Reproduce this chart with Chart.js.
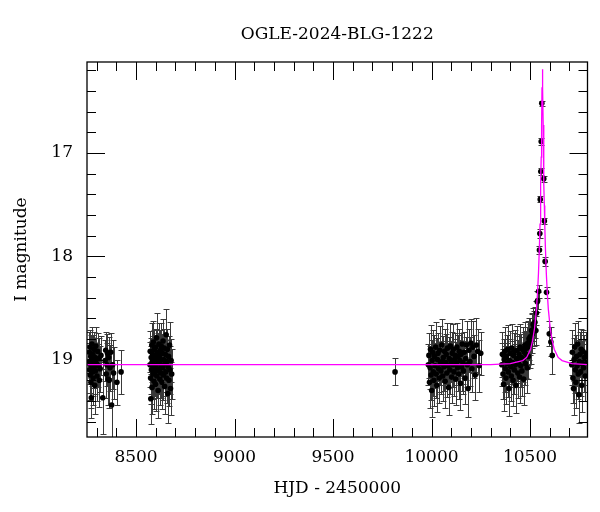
<!DOCTYPE html>
<html>
<head>
<meta charset="utf-8">
<script src="https://cdn.jsdelivr.net/npm/chart.js@4"></script>
<style>
  html, body { margin: 0; padding: 0; background: #fff; }
  canvas { display: block; }
</style>
</head>
<body>
<canvas id="lc" width="600" height="512"></canvas>
<script>
// [HJD-2450000, I mag, error]
const season2018 = [
  [8262,19.02,0.18],[8263,18.93,0.20],[8264,19.10,0.22],[8266,18.88,0.17],[8267,19.15,0.24],
  [8268,19.05,0.19],[8270,18.97,0.21],[8271,19.22,0.25],[8273,19.37,0.20],[8274,19.08,0.18],
  [8276,18.85,0.16],[8277,19.00,0.22],[8279,19.12,0.23],[8281,18.95,0.19],[8282,19.18,0.26],
  [8284,19.03,0.20],[8286,18.90,0.17],[8288,19.07,0.21],[8290,19.25,0.28],[8292,18.98,0.19],
  [8294,19.11,0.22],[8296,18.87,0.18],[8299,19.04,0.20],[8302,19.16,0.24],[8305,18.92,0.18],
  [8308,19.06,0.21],[8311,18.99,0.20],[8314,19.20,0.26],[8318,19.09,0.22],[8322,18.96,0.19],
  [8331,19.37,0.35],[8343,19.01,0.20],[8346,18.91,0.18],[8349,19.14,0.23],[8352,19.05,0.21],
  [8355,18.94,0.19],[8358,19.19,0.25],[8361,18.98,0.20],[8364,19.20,0.27],[8368,19.08,0.22],
  [8372,18.93,0.19],[8376,19.44,0.40],[8381,19.05,0.24],[8386,19.13,0.25],[8403,19.22,0.22],
  [8424,19.12,0.21]
];
const season2019 = [
  [8571,19.05,0.22],[8572,18.92,0.20],[8574,19.18,0.25],[8575,19.38,0.24],[8577,18.98,0.19],
  [8578,19.10,0.23],[8580,18.86,0.21],[8581,19.27,0.26],[8583,19.02,0.20],[8584,18.95,0.18],
  [8586,19.14,0.24],[8588,18.83,0.20],[8589,19.07,0.22],[8591,19.21,0.27],[8592,18.90,0.19],
  [8594,19.00,0.21],[8596,19.12,0.23],[8597,18.96,0.20],[8599,19.24,0.26],[8600,18.88,0.18],
  [8602,19.05,0.22],[8604,18.79,0.24],[8605,19.16,0.21],[8607,18.99,0.20],[8609,19.09,0.23],
  [8610,18.93,0.19],[8612,19.30,0.27],[8614,19.03,0.21],[8616,18.85,0.20],[8617,19.11,0.22],
  [8619,18.97,0.19],[8621,19.19,0.25],[8623,19.01,0.21],[8624,18.91,0.20],[8626,19.13,0.24],
  [8628,18.87,0.22],[8630,19.06,0.20],[8632,19.22,0.26],[8634,18.94,0.19],[8636,19.08,0.23],
  [8637,18.82,0.21],[8639,19.15,0.24],[8641,19.00,0.20],[8643,18.89,0.19],[8645,19.26,0.27],
  [8647,19.04,0.22],[8649,18.95,0.20],[8651,19.12,0.23],[8653,18.76,0.25],[8655,19.18,0.24],
  [8657,19.02,0.21],[8659,18.90,0.20],[8661,19.33,0.28],[8663,19.07,0.22],[8665,18.97,0.20],
  [8667,19.20,0.25],[8670,18.86,0.22],[8672,19.10,0.23],[8675,19.28,0.26],[8678,19.01,0.21],
  [8681,19.14,0.24]
];
const season2022 = [
  [9815,19.12,0.13]
];
const season2023 = [
  [9984,19.05,0.20],[9987,18.96,0.22],[9990,19.22,0.25],[9993,19.08,0.21],[9995,18.90,0.23],
  [9998,19.15,0.24],[10001,19.30,0.26],[10003,19.01,0.20],[10006,18.93,0.22],[10009,19.12,0.23],
  [10012,19.20,0.25],[10015,18.97,0.21],[10018,19.06,0.22],[10021,18.88,0.24],[10024,19.14,0.23],
  [10027,19.25,0.26],[10030,19.00,0.21],[10033,18.94,0.20],[10036,19.09,0.22],[10039,19.18,0.24],
  [10042,18.91,0.23],[10045,19.04,0.21],[10048,19.11,0.22],[10051,18.86,0.25],[10054,19.02,0.20],
  [10057,19.16,0.24],[10060,18.98,0.21],[10063,19.07,0.23],[10066,18.92,0.22],[10069,19.21,0.26],
  [10072,19.03,0.21],[10075,18.95,0.20],[10078,19.13,0.23],[10081,18.89,0.24],[10084,19.06,0.22],
  [10087,19.27,0.27],[10090,18.99,0.21],[10093,19.10,0.23],[10096,18.87,0.22],[10099,19.02,0.20],
  [10102,19.17,0.25],[10105,18.94,0.21],[10108,19.05,0.22],[10111,18.90,0.24],[10114,19.12,0.23],
  [10117,19.00,0.20],[10120,18.96,0.22],[10123,19.19,0.25],[10126,19.04,0.21],[10129,18.88,0.23],
  [10132,19.08,0.22],[10135,18.97,0.21],[10138,19.14,0.24],[10141,18.92,0.22],[10144,19.01,0.20],
  [10147,19.23,0.26],[10150,18.95,0.21],[10153,19.07,0.23],[10156,18.85,0.24],[10159,19.03,0.21],
  [10162,19.11,0.22],[10166,18.93,0.20],[10170,19.18,0.25],[10174,18.99,0.21],[10178,18.86,0.23],
  [10182,19.05,0.22],[10186,19.28,0.28],[10190,18.91,0.21],[10195,19.02,0.24],[10200,18.84,0.23],
  [10205,19.09,0.22],[10210,18.88,0.25],[10216,18.97,0.21],[10222,19.15,0.24],[10228,18.86,0.26],
  [10235,18.92,0.22],[10242,19.06,0.25],[10250,18.94,0.21]
];
const season2024 = [
  [10357,19.05,0.21],[10360,18.95,0.22],[10363,19.14,0.24],[10366,19.24,0.26],[10369,19.00,0.20],
  [10372,18.92,0.23],[10375,19.09,0.22],[10378,19.18,0.25],[10381,18.97,0.21],[10384,19.04,0.20],
  [10387,18.90,0.23],[10390,19.12,0.24],[10393,19.28,0.27],[10396,19.01,0.21],[10399,18.94,0.22],
  [10402,19.07,0.20],[10405,19.16,0.24],[10408,18.89,0.23],[10411,19.03,0.21],[10414,19.20,0.25],
  [10417,18.96,0.22],[10420,19.10,0.23],[10423,18.92,0.21],[10426,19.05,0.20],[10429,19.25,0.27],
  [10432,18.99,0.22],[10435,18.91,0.23],[10438,19.13,0.24],[10441,19.02,0.21],[10444,18.95,0.20],
  [10447,19.17,0.25],[10450,18.88,0.22],[10453,19.06,0.21],[10456,18.98,0.23],[10459,19.11,0.24],
  [10462,18.90,0.21],[10465,19.00,0.22],[10468,19.19,0.25],[10471,18.93,0.20],[10474,18.86,0.22],
  [10477,19.04,0.21],[10480,18.95,0.23],[10483,18.89,0.20],[10486,19.08,0.24],[10489,18.84,0.21],
  [10492,18.97,0.22],[10495,18.80,0.20],[10498,18.87,0.21],
  [10501,18.78,0.18],[10504,18.84,0.20],[10508,18.72,0.17],[10512,18.75,0.19],[10516,18.66,0.16],
  [10520,18.70,0.17],[10525,18.64,0.15],[10530,18.72,0.14],[10533,18.55,0.12],[10537,18.44,0.10],
  [10539,18.43,0.08],[10544,18.34,0.06],
  [10548,17.94,0.04],[10550,17.78,0.04],[10552,17.45,0.03],[10555,17.18,0.03],[10557,16.89,0.03],
  [10560,16.52,0.025],[10570,17.25,0.03],[10573,17.66,0.03],[10577,18.05,0.04],[10584,18.35,0.05],
  [10598,18.75,0.12],[10606,18.83,0.14],[10613,18.96,0.18]
];
const season2025 = [
  [10712,19.05,0.20],[10715,18.93,0.22],[10718,19.18,0.24],[10721,19.28,0.26],[10724,19.00,0.21],
  [10727,18.88,0.23],[10730,19.10,0.22],[10733,19.22,0.25],[10736,18.97,0.21],[10739,19.06,0.20],
  [10742,18.85,0.22],[10745,19.14,0.24],[10748,19.34,0.27],[10751,19.02,0.21],[10754,18.95,0.22],
  [10757,19.12,0.23],[10760,18.90,0.20],[10763,19.25,0.26],[10766,19.04,0.22],[10769,18.92,0.21],
  [10772,19.08,0.23],[10776,18.98,0.22],[10780,19.16,0.24],[10785,18.94,0.21],[10790,19.03,0.22]
];

// model light curve
const modelHjd = [8251, 10300, 10400, 10463, 10483, 10503, 10513, 10523, 10533, 10538, 10543,
  10548, 10551, 10553, 10555, 10557, 10559, 10561, 10563, 10565, 10567, 10569, 10571, 10573,
  10575, 10578, 10583, 10588, 10593, 10603, 10613, 10623, 10643, 10663, 10713, 10792];
const modelMag = [19.05, 19.05, 19.04, 19.01, 18.98, 18.90, 18.82, 18.70, 18.51, 18.36, 18.17,
  17.90, 17.69, 17.51, 17.30, 17.04, 16.73, 16.37, 16.19, 16.37, 16.73, 17.04, 17.30, 17.51,
  17.69, 17.90, 18.17, 18.36, 18.51, 18.70, 18.82, 18.90, 18.98, 19.01, 19.04, 19.05];

const xTickLabels = [8500, 9000, 9500, 10000, 10500];
const yTickLabels = [17, 18, 19];

const titleText = 'OGLE-2024-BLG-1222';
const xTitle = 'HJD - 2450000';
const yTitle = 'I magnitude';
const FONT = 'DejaVu Serif';

const obs = [].concat(season2018, season2019, season2022, season2023, season2024, season2025);

const errorBars = {
  id: 'errorBars',
  beforeDatasetsDraw(chart) {
    const {ctx, chartArea: a, scales: {x, y}} = chart;
    ctx.save();
    ctx.beginPath();
    ctx.rect(a.left, a.top, a.right - a.left, a.bottom - a.top);
    ctx.clip();
    ctx.strokeStyle = '#3a3a3a';
    ctx.lineWidth = 1;
    ctx.beginPath();
    obs.forEach(([t, m, e]) => {
      const px = Math.round(x.getPixelForValue(t)) + 0.5;
      const y1 = Math.round(y.getPixelForValue(m - e)) + 0.5;
      const y2 = Math.round(y.getPixelForValue(m + e)) + 0.5;
      ctx.moveTo(px, y1); ctx.lineTo(px, y2);
      ctx.moveTo(px - 3, y1); ctx.lineTo(px + 3, y1);
      ctx.moveTo(px - 3, y2); ctx.lineTo(px + 3, y2);
    });
    ctx.stroke();
    ctx.restore();
  }
};

const frame = {
  id: 'frame',
  afterDraw(chart) {
    const {ctx, chartArea: a, scales: {x, y}} = chart;
    ctx.save();
    ctx.strokeStyle = '#000';
    ctx.lineWidth = 1;
    ctx.beginPath();
    // x ticks every 100, long ones every 500, on bottom and top
    for (let v = 8300; v <= 10700; v += 100) {
      const px = Math.round(x.getPixelForValue(v)) + 0.5;
      const len = v % 500 === 0 ? 18 : 9;
      ctx.moveTo(px, a.bottom); ctx.lineTo(px, a.bottom - len);
      ctx.moveTo(px, a.top); ctx.lineTo(px, a.top + len);
    }
    // y ticks every 0.2 mag, long ones every 1 mag, on left and right
    for (let k = 81; k <= 98; k++) {
      const py = Math.round(y.getPixelForValue(k / 5)) + 0.5;
      const len = k % 5 === 0 ? 18 : 9;
      ctx.moveTo(a.left, py); ctx.lineTo(a.left + len, py);
      ctx.moveTo(a.right, py); ctx.lineTo(a.right - len, py);
    }
    ctx.stroke();
    ctx.lineWidth = 1.3;
    ctx.strokeRect(a.left, a.top, a.right - a.left, a.bottom - a.top);

    ctx.fillStyle = '#000';
    ctx.textAlign = 'center';
    ctx.textBaseline = 'alphabetic';
    ctx.font = '17px "' + FONT + '"';
    ctx.fillText(titleText, (a.left + a.right) / 2, 39);
    ctx.fillText(xTitle, (a.left + a.right) / 2, 493);
    ctx.translate(26, (a.top + a.bottom) / 2);
    ctx.rotate(-Math.PI / 2);
    ctx.fillText(yTitle, 0, 0);
    ctx.restore();
  }
};

new Chart('lc', {
  type: 'scatter',
  data: {
    datasets: [{
      label: 'model',
      type: 'line',
      data: modelHjd.map((t, i) => ({x: t, y: modelMag[i]})),
      borderColor: '#ff00ff',
      borderWidth: 1.3,
      pointRadius: 0,
      tension: 0,
      fill: false,
      order: 0
    }, {
      label: 'OGLE',
      data: obs.map(([t, m]) => ({x: t, y: m})),
      backgroundColor: '#000',
      borderWidth: 0,
      pointRadius: 2.8,
      order: 1
    }]
  },
  options: {
    responsive: false,
    animation: false,
    devicePixelRatio: 1,
    layout: { padding: { top: 62, right: 12.5, left: 0, bottom: 0 } },
    plugins: {
      legend: { display: false },
      tooltip: { enabled: false }
    },
    scales: {
      x: {
        type: 'linear',
        min: 8251,
        max: 10792,
        grid: { display: false, drawTicks: false },
        border: { display: false },
        afterBuildTicks: s => { s.ticks = xTickLabels.map(v => ({value: v})); },
        ticks: {
          padding: 10,
          maxRotation: 0,
          autoSkip: false,
          color: '#000',
          font: { family: FONT, size: 17 },
          callback: v => String(v)
        },
        afterFit: s => { s.height = 75; }
      },
      y: {
        reverse: true,
        min: 16.12,
        max: 19.75,
        grid: { display: false, drawTicks: false },
        border: { display: false },
        afterBuildTicks: s => { s.ticks = yTickLabels.map(v => ({value: v})); },
        ticks: {
          padding: 14,
          autoSkip: false,
          color: '#000',
          font: { family: FONT, size: 17 },
          callback: v => String(v)
        },
        afterFit: s => { s.width = 87; }
      }
    }
  },
  plugins: [errorBars, frame]
});
</script>
</body>
</html>
